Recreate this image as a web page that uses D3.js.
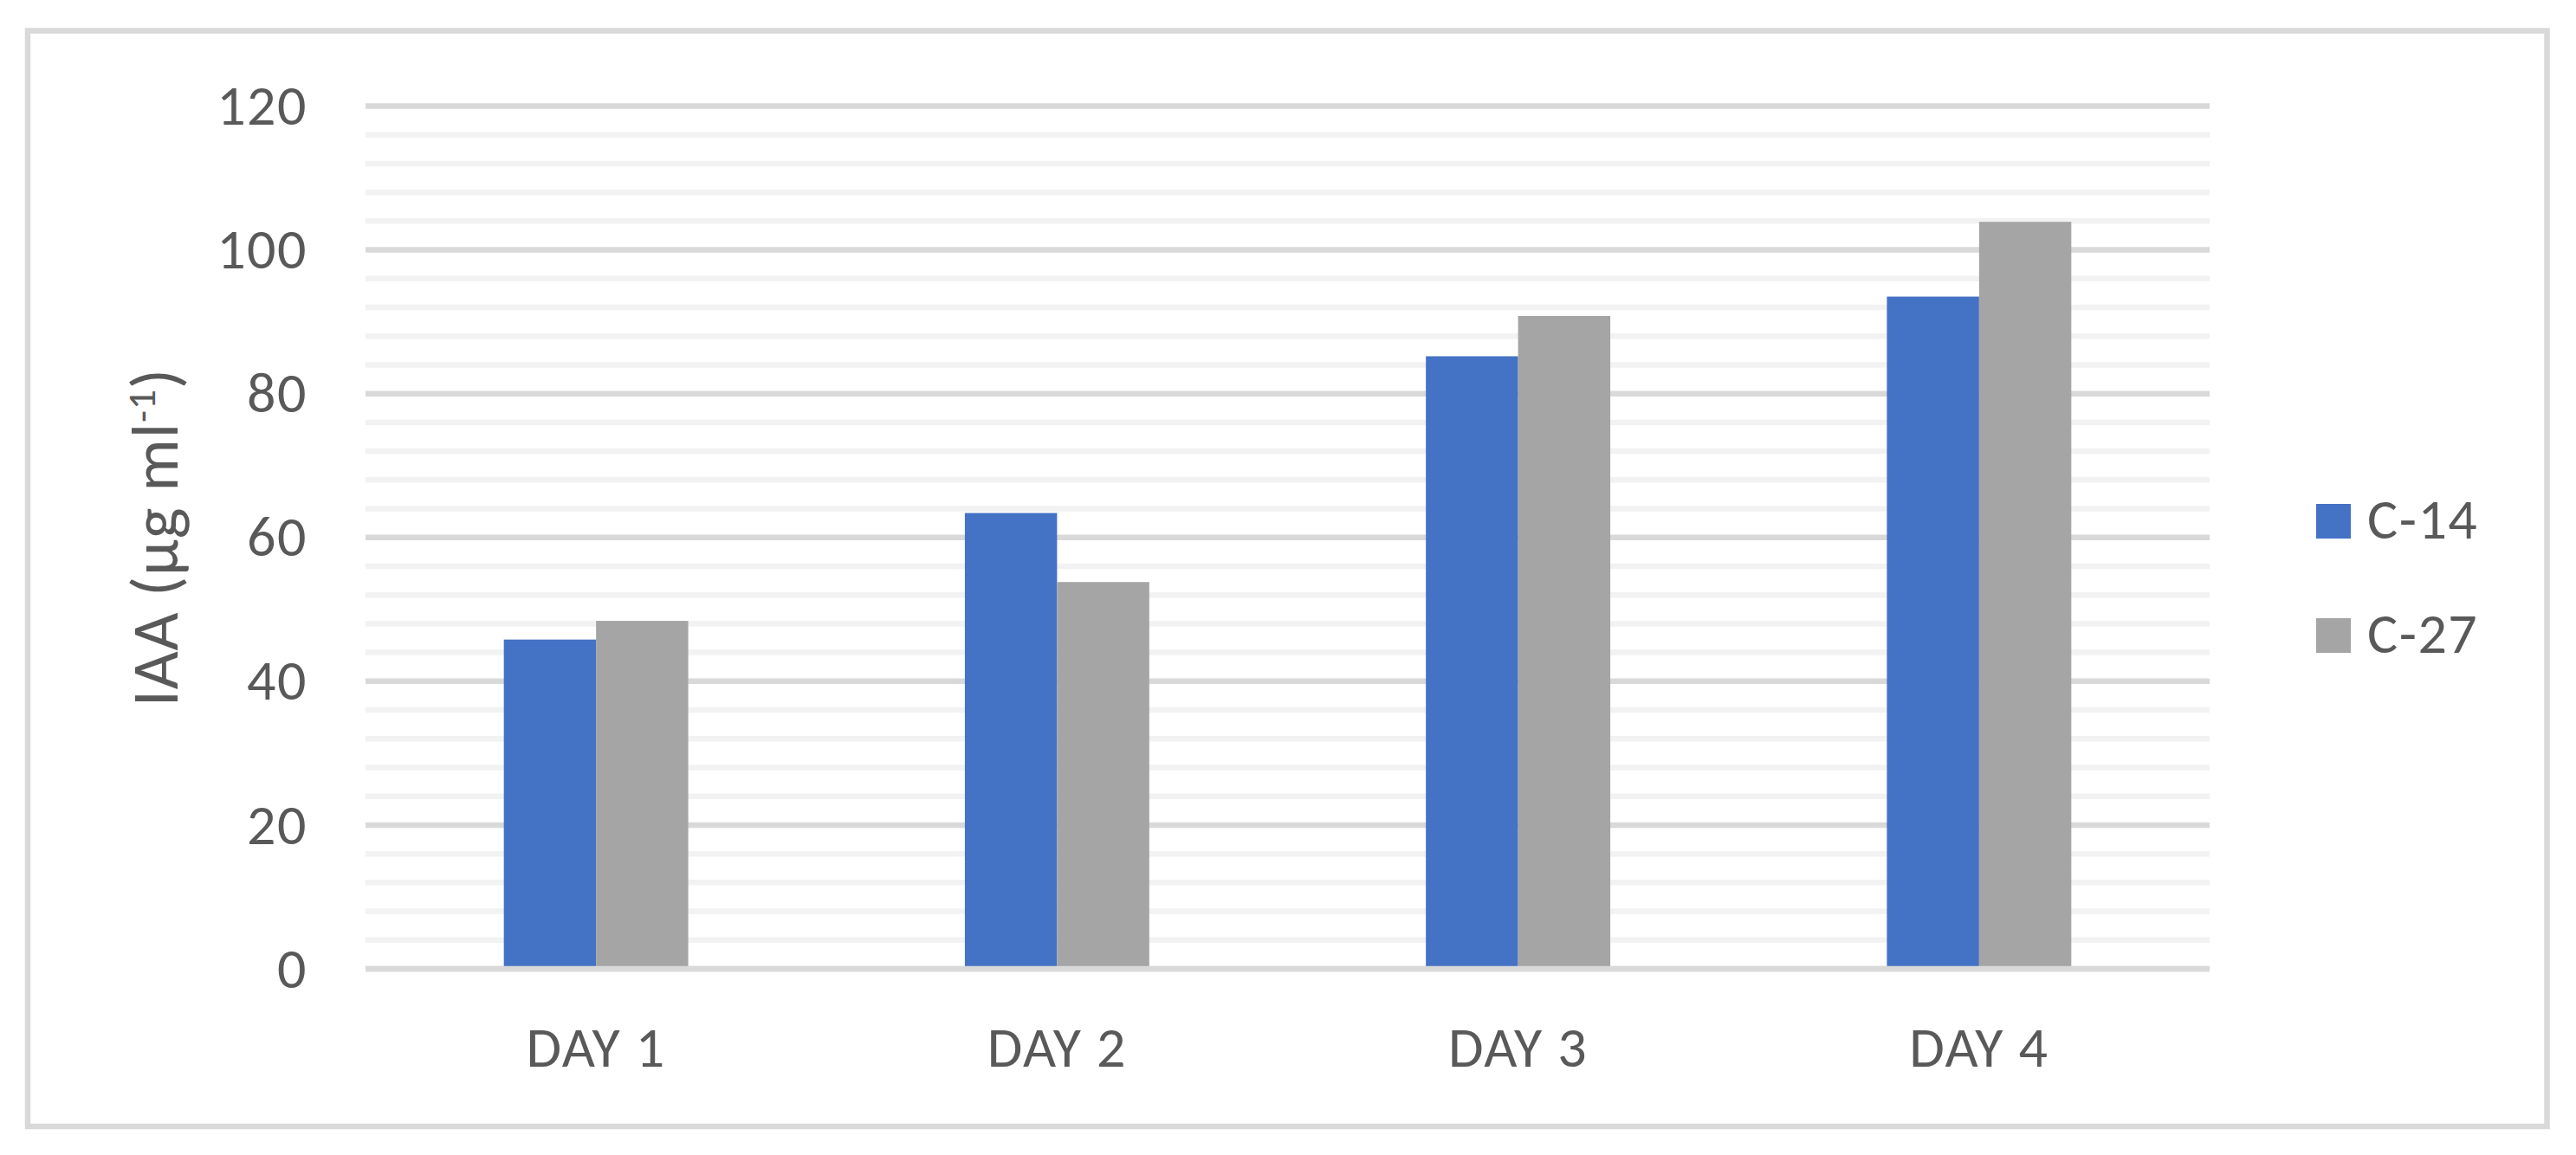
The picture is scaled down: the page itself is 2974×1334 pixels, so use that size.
<!DOCTYPE html>
<html>
<head>
<meta charset="utf-8">
<script src="https://cdn.jsdelivr.net/npm/d3@7"></script>
<style>
  html, body { margin: 0; padding: 0; background: #ffffff; }
  svg { display: block; }
  text { font-family: Carlito, Calibri, Lato, "Open Sans", sans-serif; fill: #595959; }
</style>
</head>
<body>
<svg id="chart" width="2974" height="1334"></svg>
<script>
// ---- data ----
const days = ["DAY 1", "DAY 2", "DAY 3", "DAY 4"];
const seriesNames = ["C-14", "C-27"];
const c14Values = [45.8, 63.4, 85.2, 93.5];
const c27Values = [48.4, 53.8, 90.8, 103.9];
const yTickValues = [0, 20, 40, 60, 80, 100, 120];
const yMinorStep = 4;
const seriesColors = ["#4472c4", "#a5a5a5"];
const yTitleMain = "IAA (µg ml";
const yTitleSup = "-1";
const yTitleEnd = ")";

// ---- layout ----
const svg = d3.select("#chart");
svg.append("rect").attr("width", 2974).attr("height", 1334).attr("fill", "#ffffff");

// outer chart border
svg.append("rect")
  .attr("x", 32).attr("y", 35.5)
  .attr("width", 2940.5 - 32).attr("height", 1301 - 35.5)
  .attr("fill", "none").attr("stroke", "#d9d9d9").attr("stroke-width", 6.5);

const plot = { left: 422, right: 2551, top: 122.5, bottom: 1119 };

const y = d3.scaleLinear().domain([0, 120]).range([plot.bottom, plot.top]);
const x0 = d3.scaleBand().domain(days).range([plot.left, plot.right])
  .paddingInner(0.6).paddingOuter(0.3);
const x1 = d3.scaleBand().domain(seriesNames).range([0, x0.bandwidth()]);

// gridlines
const gridVals = d3.range(0, 120 + 0.001, yMinorStep);
svg.append("g").selectAll("line").data(gridVals).join("line")
  .attr("x1", plot.left).attr("x2", plot.right)
  .attr("y1", d => y(d)).attr("y2", d => y(d))
  .attr("stroke", d => (d % 20 === 0 ? "#d9d9d9" : "#f2f2f2"))
  .attr("stroke-width", 6.5);

// bars
const table = days.map((d, i) => ({ day: d, values: [c14Values[i], c27Values[i]] }));
const groups = svg.append("g").selectAll("g").data(table).join("g")
  .attr("transform", d => `translate(${x0(d.day)},0)`);
groups.selectAll("rect")
  .data(d => d.values.map((v, j) => ({ name: seriesNames[j], value: v, color: seriesColors[j] })))
  .join("rect")
  .attr("x", d => x1(d.name))
  .attr("width", x1.bandwidth())
  .attr("y", d => y(d.value))
  .attr("height", d => y(0) - y(d.value))
  .attr("fill", d => d.color);

// baseline (category axis line)
svg.append("line")
  .attr("x1", plot.left).attr("x2", plot.right)
  .attr("y1", y(0)).attr("y2", y(0))
  .attr("stroke", "#d9d9d9").attr("stroke-width", 6.5);

const fontStack = "Carlito, Calibri, Lato, sans-serif";

// y axis labels
const yAxis = svg.append("g")
  .attr("transform", `translate(${plot.left},0)`)
  .call(d3.axisLeft(y).tickValues(yTickValues).tickSize(0).tickPadding(67));
yAxis.select(".domain").remove();
yAxis.selectAll("text")
  .attr("font-size", 66)
  .attr("fill", "#595959")
  .attr("letter-spacing", 1.5)
  .style("font-family", fontStack);

// x axis labels
const xAxis = svg.append("g")
  .attr("transform", `translate(0,${plot.bottom})`)
  .call(d3.axisBottom(x0).tickSize(0).tickPadding(66));
xAxis.select(".domain").remove();
xAxis.selectAll("text")
  .attr("font-size", 66)
  .attr("fill", "#595959")
  .attr("letter-spacing", 1.5)
  .style("font-family", fontStack);

// y axis title
const title = svg.append("text")
  .attr("transform", `translate(205,${(plot.top + plot.bottom) / 2}) rotate(-90)`)
  .attr("text-anchor", "middle")
  .attr("letter-spacing", 0.8)
  .attr("font-size", 76);
title.append("tspan").text(yTitleMain);
title.append("tspan").attr("font-size", 46).attr("dy", -26).text(yTitleSup);
title.append("tspan").attr("dy", 26).text(yTitleEnd);

// legend
const legend = svg.append("g").attr("transform", "translate(2674,582)");
const items = legend.selectAll("g").data(seriesNames).join("g")
  .attr("transform", (d, i) => `translate(0,${i * 132})`);
items.append("rect").attr("width", 40).attr("height", 40)
  .attr("fill", (d, i) => seriesColors[i]);
items.append("text").attr("x", 59).attr("y", 40)
  .attr("font-size", 66).attr("letter-spacing", 1.5).text(d => d);
</script>
</body>
</html>
